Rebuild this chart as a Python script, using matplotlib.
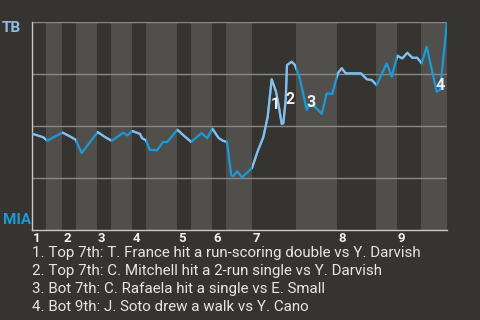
import numpy as np
import matplotlib
import matplotlib.pyplot as plt
from matplotlib.patches import Rectangle

matplotlib.use('Agg')
plt.rcParams['font.family'] = ['Roboto', 'DejaVu Sans']

# half-inning boundaries along the game axis (top of 1st ... bottom of 9th)
half_starts = [0, 14, 30, 44, 65, 79, 100, 114, 145, 159, 180, 194, 220, 264, 305, 344, 365, 389, 415]
innings = ['1', '2', '3', '4', '5', '6', '7', '8', '9']

# win probability for TB (%) along the game
progress = [0, 11.3, 15.3, 23, 30.7, 38, 43.7, 49.7, 65.7, 73, 79.7, 91.3, 95.3, 100.3,
            108, 110, 114, 117.7, 125, 131, 135.3, 145.3, 152.7, 159.3, 169.3, 175.3,
            180.3, 186.7, 191, 195, 199.3, 201, 205.3, 210, 220, 226, 231.3, 235.7,
            239.7, 244, 246.3, 249.7, 251.3, 253.7, 255, 259.7, 263, 268, 274.7, 276.3,
            280.7, 289.7, 294.7, 300.3, 305.7, 309.7, 313.7, 329, 334.7, 339.7, 344.7,
            354.7, 359.7, 365.3, 370.3, 375.3, 380.3, 385.3, 389.7, 394.7, 404.7, 408, 415]
tb_wp = [46.3, 44.6, 42.9, 45.0, 46.8, 45.0, 43.4, 37.0, 47.1, 44.7, 42.9, 46.8, 45.5, 47.6,
         46.2, 44.2, 43.1, 38.6, 38.3, 42.3, 42.3, 48.2, 45.0, 42.3, 46.6, 44.2,
         48.7, 44.2, 42.9, 42.3, 26.3, 25.8, 28.2, 25.3, 29.8, 38.3, 44.6, 54.5,
         72.5, 66.5, 60.9, 51.0, 51.3, 62.5, 79.3, 80.9, 79.3, 72.5, 57.7, 59.3,
         60.4, 55.8, 65.7, 65.4, 75.3, 77.8, 75.3, 75.3, 72.5, 72.1, 69.7,
         80.1, 73.7, 83.8, 82.5, 85.2, 82.8, 82.8, 80.1, 88.1, 66.5, 67.3, 100]

event_ids = ['1', '2', '3', '4']
event_x = [243, 258.3, 278.7, 408]
event_y = [60.1, 62.8, 61.4, 69.7]
event_text = [
    '1. Top 7th: T. France hit a run-scoring double vs Y. Darvish',
    '2. Top 7th: C. Mitchell hit a 2-run single vs Y. Darvish',
    '3. Bot 7th: C. Rafaela hit a single vs E. Small',
    '4. Bot 9th: J. Soto drew a walk vs Y. Cano',
]

bg = '#363430'
stripe = '#504f4c'
tb_color = '#8bbde8'
mia_color = '#1a9ad8'

fig = plt.figure(figsize=(4.8, 3.2), dpi=100, facecolor=bg)
ax = fig.add_axes([32 / 480, 1 - 230 / 320, 415 / 480, 208 / 320])
ax.set_facecolor(bg)
ax.set_xlim(0, 415)
ax.set_ylim(0, 100)

# lighter bands for the bottom halves
for i in range(1, len(half_starts) - 1, 2):
    ax.axvspan(half_starts[i], half_starts[i + 1], color=stripe, lw=0, zorder=0)

for yv in [25, 50, 75, 100]:
    ax.axhline(yv, color='#8a8986', lw=1, zorder=1)

# line: MIA colour everywhere, TB colour clipped to the top halves
ax.plot(progress, tb_wp, color=mia_color, lw=1.6, zorder=3)
for i in range(0, len(half_starts) - 1, 2):
    ln, = ax.plot(progress, tb_wp, color=tb_color, lw=1.6, zorder=4)
    clip = Rectangle((half_starts[i], -10), half_starts[i + 1] - half_starts[i], 120,
                     transform=ax.transData)
    ln.set_clip_path(clip)

for lab, x, y in zip(event_ids, event_x, event_y):
    ax.text(x, y, lab, color='#f0f0f0', fontsize=11.5, fontweight='bold',
            ha='center', va='center', zorder=5)

for s in ['top', 'right']:
    ax.spines[s].set_visible(False)
for s in ['left', 'bottom']:
    ax.spines[s].set_color('#c8c8c8')
    ax.spines[s].set_linewidth(1)
ax.set_xticks([])
ax.set_yticks([])

# inning numbers under the axis
for k, lab in enumerate(innings):
    ax.text(half_starts[2 * k] + 1, -1.2, lab, color='#f0f0f0', fontsize=9.5,
            fontweight='bold', ha='left', va='top')

fig.text(2 / 480, 1 - 28 / 320, 'TB', color=tb_color, fontsize=11, fontweight='bold',
         ha='left', va='center')
fig.text(3 / 480, 1 - 219.5 / 320, 'MIA', color=mia_color, fontsize=11, fontweight='bold',
         ha='left', va='center')

for k, t in enumerate(event_text):
    fig.text(32 / 480, 1 - (253 + 18 * k) / 320, t, color='#e6e6e6', fontsize=10.9,
             ha='left', va='center')

fig.savefig('out.png', dpi=100, facecolor=bg)
